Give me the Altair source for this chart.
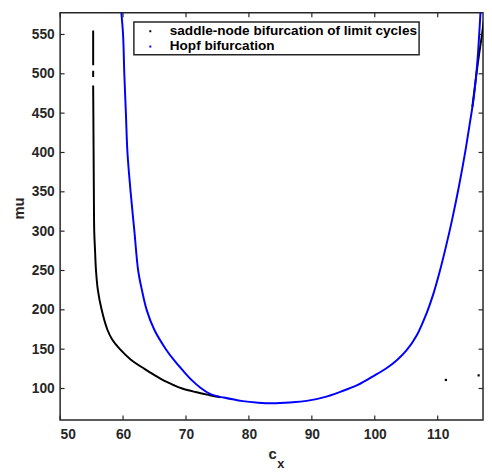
import altair as alt
import pandas as pd

# ---- data ----
# Hopf bifurcation curve (blue)
hopf_cx = [59.7, 60.0, 60.2, 60.45, 60.7, 61.2, 61.8, 62.4, 63.0, 63.75, 64.95, 66.8, 68.2,
           69.6, 71.0, 72.3, 74.0, 76.0, 79.0, 81.5, 83.7, 86.5, 89.4, 92.0, 94.6, 97.3, 99.8,
           101.9, 103.5, 105.0, 106.7, 108.2, 109.3, 110.3, 111.3, 112.3, 113.4, 114.4,
           115.1, 115.7, 116.3, 116.8, 117.1]
hopf_mu = [580, 550, 500, 450, 400, 350, 300, 250, 225, 200, 175, 150, 135,
           122, 110, 101, 92.5, 88.5, 84.0, 82.0, 81.3, 82.3, 84.6, 89.0, 96.0, 104.5, 115.8,
           126, 136, 148, 168, 195, 220, 248, 280, 315, 358, 402,
           437, 468, 515, 578, 620]

# saddle-node bifurcation of limit cycles (black): pieces a-c on the left, d on the right
# (between c and d it runs underneath the Hopf curve)
sn_seg = ["a", "a", "b", "b"] + ["c"] * 21 + ["d"] * 5
sn_cx = [55.25, 55.25, 55.25, 55.25,
         55.25, 55.28, 55.32, 55.36, 55.42, 55.55, 55.7, 56.0, 56.6, 57.5, 58.3, 59.5,
         61.2, 63.4, 65.0, 66.5, 68.0, 69.4, 71.5, 73.8, 75.5,
         115.5, 116.0, 116.4, 117.0, 117.4]
sn_mu = [555, 511, 504, 496,
         485, 450, 400, 350, 300, 275, 250, 225, 200, 175, 162, 150,
         137, 125, 117, 110, 104.5, 100, 95.5, 91.5, 88.8,
         458, 490, 515, 548, 572]

# isolated saddle-node points
dot_cx = [111.3, 116.5]
dot_mu = [110.9, 116.7]

x_ticks = [50, 60, 70, 80, 90, 100, 110]
y_ticks = [100, 150, 200, 250, 300, 350, 400, 450, 500, 550]
legend_names = ["saddle-node bifurcation of limit cycles", "Hopf bifurcation"]
legend_colors = ["#000000", "#0000ff"]

# ---- layout ----
W, H = 430, 414
FONT = "Liberation Sans"
AX = "#262626"

xs = alt.Scale(domain=[50, 117.2], nice=False, zero=False)
ys = alt.Scale(domain=[60, 577.5], nice=False, zero=False)

hopf_df = pd.DataFrame({"cx": hopf_cx, "mu": hopf_mu, "i": range(len(hopf_cx))})
sn_df = pd.DataFrame({"cx": sn_cx, "mu": sn_mu, "seg": sn_seg, "i": range(len(sn_cx))})
dot_df = pd.DataFrame({"cx": dot_cx, "mu": dot_mu})
xt_df = pd.DataFrame({"v": x_ticks})
yt_df = pd.DataFrame({"v": y_ticks})

xaxis = alt.Axis(values=x_ticks, ticks=False, domain=False, grid=False, title=None,
                 labelFont=FONT, labelFontWeight="bold", labelFontSize=14,
                 labelColor=AX, labelPadding=8)
yaxis = alt.Axis(values=y_ticks, ticks=False, domain=False, grid=False, title=None,
                 labelFont=FONT, labelFontWeight="bold", labelFontSize=14,
                 labelColor=AX, labelPadding=6)

sn_line = alt.Chart(sn_df).mark_line(color="#000000", strokeWidth=2, clip=True,
                                     interpolate="catmull-rom").encode(
    x=alt.X("cx:Q", scale=xs, axis=xaxis),
    y=alt.Y("mu:Q", scale=ys, axis=yaxis),
    detail="seg:N",
    order="i:Q",
)
hopf_line = alt.Chart(hopf_df).mark_line(color="#0000ff", strokeWidth=2, clip=True,
                                         interpolate="catmull-rom").encode(
    x=alt.X("cx:Q", scale=xs),
    y=alt.Y("mu:Q", scale=ys),
    order="i:Q",
)
dots = alt.Chart(dot_df).mark_square(color="#000000", size=5, opacity=1).encode(
    x=alt.X("cx:Q", scale=xs),
    y=alt.Y("mu:Q", scale=ys),
)

tk = 4.5
bottom_ticks = alt.Chart(xt_df).mark_rule(color=AX, strokeWidth=1.2).encode(
    x=alt.X("v:Q", scale=xs), y=alt.value(H), y2=alt.value(H - tk))
top_ticks = alt.Chart(xt_df).mark_rule(color=AX, strokeWidth=1.2).encode(
    x=alt.X("v:Q", scale=xs), y=alt.value(0), y2=alt.value(tk))
left_ticks = alt.Chart(yt_df).mark_rule(color=AX, strokeWidth=1.2).encode(
    y=alt.Y("v:Q", scale=ys), x=alt.value(0), x2=alt.value(tk))
right_ticks = alt.Chart(yt_df).mark_rule(color=AX, strokeWidth=1.2).encode(
    y=alt.Y("v:Q", scale=ys), x=alt.value(W), x2=alt.value(W - tk))

one = alt.Data(values=[{"k": 1}])

# legend (manual, MATLAB style box)
lx0, lx1, ly0, ly1 = 75, 365, 9.3, 42.7
legend_box = alt.Chart(one).mark_rect(fill="white", stroke=AX, strokeWidth=1.5).encode(
    x=alt.value(lx0), x2=alt.value(lx1), y=alt.value(ly0), y2=alt.value(ly1))
legend_items = []
for k, (name, col) in enumerate(zip(legend_names, legend_colors)):
    yy = 18.7 + k * 15.6
    legend_items.append(
        alt.Chart(one).mark_square(color=col, size=4, opacity=1).encode(
            x=alt.value(91.7), y=alt.value(yy)))
    legend_items.append(
        alt.Chart(one).mark_text(text=name, font=FONT, fontWeight="bold", fontSize=13.8,
                                 align="left", baseline="middle", color="#000000").encode(
            x=alt.value(111.5), y=alt.value(yy)))

# axis titles
ytitle = alt.Chart(one).mark_text(text="mu", font=FONT, fontWeight="bold", fontSize=15,
                                  angle=270, align="center", baseline="middle",
                                  color=AX).encode(x=alt.value(-42), y=alt.value(199))
xtitle_c = alt.Chart(one).mark_text(text="c", font=FONT, fontWeight="bold", fontSize=15,
                                    align="center", baseline="middle",
                                    color=AX).encode(x=alt.value(216), y=alt.value(449))
xtitle_x = alt.Chart(one).mark_text(text="x", font=FONT, fontWeight="bold", fontSize=13,
                                    align="center", baseline="middle",
                                    color=AX).encode(x=alt.value(224.5), y=alt.value(459))

chart = alt.layer(
    sn_line, hopf_line, dots,
    bottom_ticks, top_ticks, left_ticks, right_ticks,
    legend_box, *legend_items,
    ytitle, xtitle_c, xtitle_x,
).properties(
    width=W, height=H,
    autosize=alt.AutoSizeParams(type="none"),
    padding={"left": 53, "top": 1, "right": 1, "bottom": 50},
    background="white",
).configure_view(stroke=AX, strokeWidth=1.5)

chart.save("out.html", embed_options={"renderer": "svg", "actions": False})
